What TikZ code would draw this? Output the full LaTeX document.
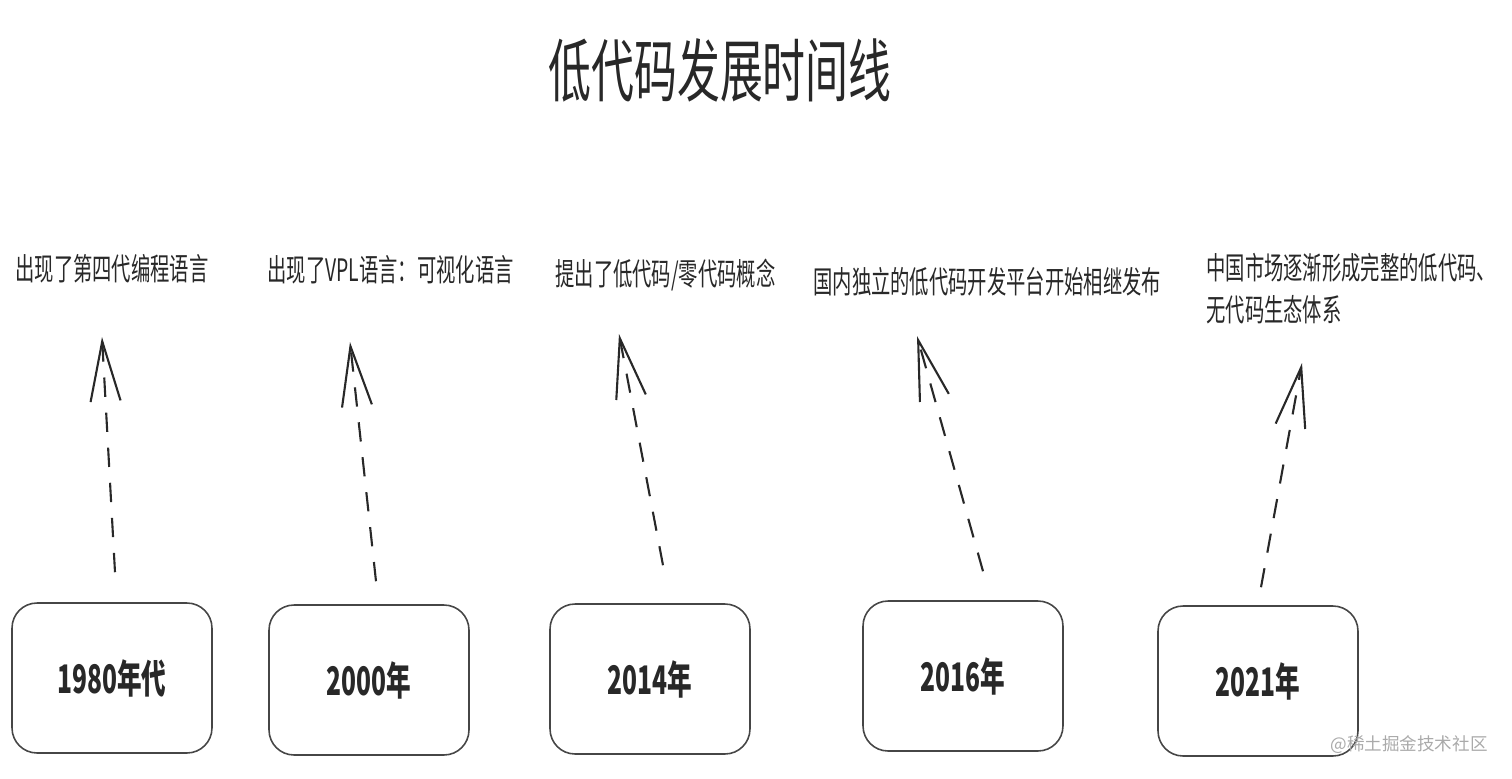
\documentclass[tikz,border=0pt]{standalone}
\usepackage{fontspec}
\usepackage{graphicx}
\usetikzlibrary{arrows.meta,calc}
\setmainfont{Noto Sans CJK SC}
\definecolor{inkdark}{RGB}{40,40,40}
\definecolor{boxline}{RGB}{70,70,70}
\definecolor{markgrey}{RGB}{170,170,170}
\newcommand{\tallt}[1]{\scalebox{1}[1.6]{#1}}

\begin{document}
\begin{tikzpicture}[x=0.02cm,y=-0.02cm,
  yearbox/.style={draw=boxline,line width=0.9pt,rounded corners=0.5cm,minimum width=4cm,minimum height=3cm,text=inkdark,font=\fontsize{14}{16}\selectfont\bfseries},
  event/.style={anchor=west,inner sep=0pt,text=inkdark,font=\fontsize{11}{13}\selectfont},
  timearrow/.style={inkdark,line width=1.2pt,dash pattern=on 11pt off 9pt,-{Straight Barb[length=1.2cm,width=0.6cm]}}]
  \useasboundingbox (0,0) rectangle (1512,778);
  \node[text=inkdark,font=\fontsize{24.4}{28}\selectfont] (title) at (720,70) {\tallt{低代码发展时间线}};
  % year boxes
  \foreach \n/\x/\y/\txt in {a/112/678/1980年代, b/369/680/2000年, c/650/679/2014年, d/963/676/2016年, e/1258/681/2021年}
    \node[yearbox] (y\n) at (\x,\y) {\tallt{\txt}};
  % events
  \node[event] (ea) at (15,269) {\tallt{出现了第四代编程语言}};
  \node[event] (eb) at (267,270) {\tallt{出现了VPL语言：可视化语言}};
  \node[event] (ec) at (555,275) {\tallt{提出了低代码/零代码概念}};
  \node[event] (ed) at (813,282) {\tallt{国内独立的低代码开发平台开始相继发布}};
  \node[event,align=left,font=\fontsize{11}{23.8}\selectfont] (ee) at (1206,289) {\tallt{中国市场逐渐形成完整的低代码、}\\\tallt{无代码生态体系}};
  % arrow tips under the events
  \coordinate (ta) at (102,337); \coordinate (tb) at (350,342); \coordinate (tc) at (619,334);
  \coordinate (td) at (917,336); \coordinate (te) at (1302,363);
  \foreach \n/\dx/\dy in {a/3/-30, b/7/-23, c/13/-38, d/20/-29, e/3/-18}
    \draw[timearrow] ($(y\n.north)+(\dx,\dy)$) -- (t\n);
  \node[text=markgrey,font=\fontsize{10}{12}\selectfont,anchor=east,inner sep=0pt] (mark) at (1488,745) {@稀土掘金技术社区};
\end{tikzpicture}
\end{document}
